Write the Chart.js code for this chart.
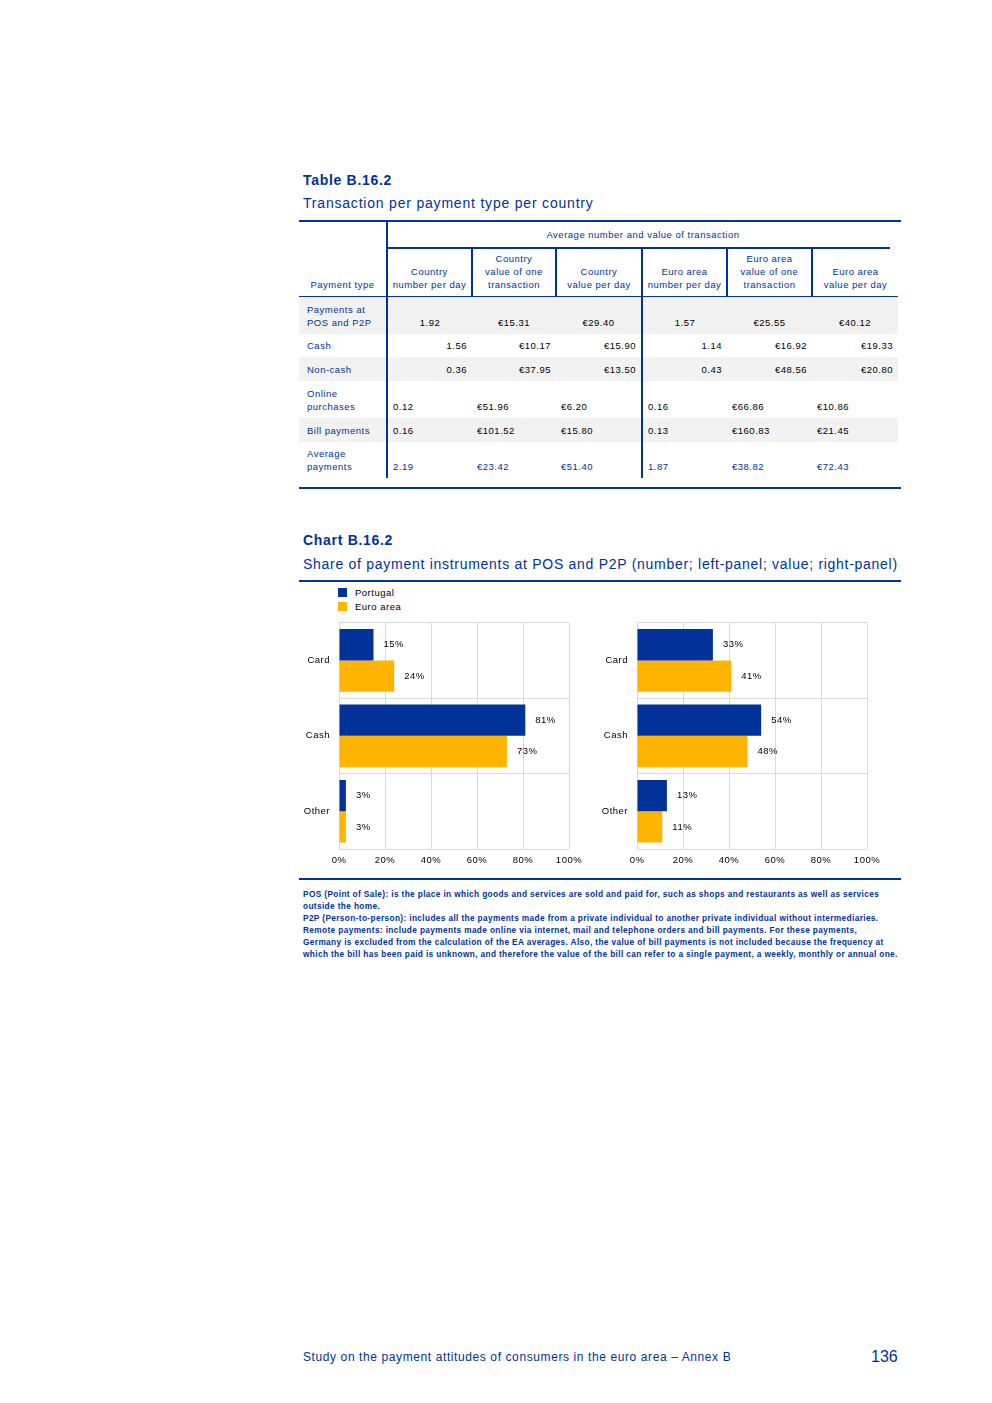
<!DOCTYPE html>
<html>
<head>
<meta charset="utf-8">
<script src="https://cdn.jsdelivr.net/npm/chart.js@4"></script>
<style>
  body { margin: 0; background: #fff; font-family: "Liberation Sans", Arial, sans-serif; }
  #page { position: relative; width: 992px; height: 1403px; }
  .abs { position: absolute; white-space: nowrap; }
  .title { color: #003299; font-weight: bold; font-size: 14px; letter-spacing: 0.7px; }
  .subtitle { color: #003299; font-size: 14px; }
  .rule { position: absolute; background: #003299; height: 2px; }
  table { position: absolute; left: 299px; top: 222px; border-collapse: collapse; table-layout: fixed;
          font-size: 9.5px; line-height: 13px; letter-spacing: 0.5px; }
  td { padding: 0; white-space: nowrap; overflow: hidden; }
  .hdr { color: #003299; text-align: center; vertical-align: bottom; padding-bottom: 5px; }
  .lab { color: #003299; text-align: left; padding-left: 8px; border-right: 2px solid #003299; }
  .sep { border-right: 2px solid #003299; }
  .grey td { background: #f2f2f2; }
  tbody td { vertical-align: bottom; padding-bottom: 5px; }
  .c { text-align: center; }
  .r { text-align: right; padding-right: 5px; }
  .l { text-align: left; padding-left: 5px; }
  .blue { color: #003299; }
  .legend { position: absolute; left: 338px; font-size: 9.5px; color: #000; letter-spacing: 0.5px; }
  .legend span.sw { position: absolute; left: 0; width: 9px; height: 9px; }
  .legend span.tx { position: absolute; left: 17px; top: -1px; white-space: nowrap; }
  .note { position: absolute; left: 303px; color: #003299; font-size: 8.3px; font-weight: bold; line-height: 12px;
          white-space: nowrap; letter-spacing: 0.36px; }
  canvas { position: absolute; }
</style>
</head>
<body>
<div id="page">
  <div class="abs title" style="left:303px; top:172px;">Table B.16.2</div>
  <div class="abs subtitle" style="left:303px; top:195px; letter-spacing:0.8px;">Transaction per payment type per country</div>
  <div class="rule" style="left:299px; top:220px; width:602px;"></div>
  <table id="tbl"></table>
  <div class="rule" style="left:299px; top:487px; width:602px; height:1.5px;"></div>

  <div class="abs title" style="left:303px; top:532px;">Chart B.16.2</div>
  <div class="abs subtitle" style="left:303px; top:556px; letter-spacing:0.72px;">Share of payment instruments at POS and P2P (number; left-panel; value; right-panel)</div>
  <div class="rule" style="left:299px; top:580px; width:602px; height:1.5px;"></div>
  <div id="legend"></div>
  <canvas id="left" width="290" height="269" style="left:299px; top:608px;"></canvas>
  <canvas id="right" width="290" height="269" style="left:597px; top:608px;"></canvas>
  <div class="rule" style="left:299px; top:878px; width:602px; height:1.5px;"></div>
  <div id="notes"></div>

  <div class="abs" style="left:303px; top:1350px; font-size:12px; color:#003299; letter-spacing:0.6px;">Study on the payment attitudes of consumers in the euro area – Annex B</div>
  <div class="abs" style="left:871px; top:1348px; font-size:16px; color:#003299;">136</div>
</div>
<script>
// Table data
const tableGroupTitle = 'Average number and value of transaction';
const tableHeaders = ['Country<br>number per day', 'Country<br>value of one<br>transaction', 'Country<br>value per day',
                      'Euro area<br>number per day', 'Euro area<br>value of one<br>transaction', 'Euro area<br>value per day'];
const rowLabels = ['Payments at<br>POS and P2P', 'Cash', 'Non-cash', 'Online<br>purchases', 'Bill payments', 'Average<br>payments'];
const countryNumber = ['1.92', '1.56', '0.36', '0.12', '0.16', '2.19'];
const countryValueOne = ['€15.31', '€10.17', '€37.95', '€51.96', '€101.52', '€23.42'];
const countryValueDay = ['€29.40', '€15.90', '€13.50', '€6.20', '€15.80', '€51.40'];
const euroNumber = ['1.57', '1.14', '0.43', '0.16', '0.13', '1.87'];
const euroValueOne = ['€25.55', '€16.92', '€48.56', '€66.86', '€160.83', '€38.82'];
const euroValueDay = ['€40.12', '€19.33', '€20.80', '€10.86', '€21.45', '€72.43'];

// Chart data
const categories = ['Card', 'Cash', 'Other'];
const seriesNames = ['Portugal', 'Euro area'];
const seriesColors = ['#003299', '#FFB400'];
const numberPortugal = [15, 81, 3];
const numberEuroArea = [24, 73, 3];
const valuePortugal = [33, 54, 13];
const valueEuroArea = [41, 48, 11];
const xTicks = ['0%', '20%', '40%', '60%', '80%', '100%'];

const notes = [
  'POS (Point of Sale): is the place in which goods and services are sold and paid for, such as shops and restaurants as well as services',
  'outside the home.',
  'P2P (Person-to-person): includes all the payments made from a private individual to another private individual without intermediaries.',
  'Remote payments: include payments made online via internet, mail and telephone orders and bill payments. For these payments,',
  'Germany is excluded from the calculation of the EA averages. Also, the value of bill payments is not included because the frequency at',
  'which the bill has been paid is unknown, and therefore the value of the bill can refer to a single payment, a weekly, monthly or annual one.'
];

// Build table
const colWidths = [88, 85, 84, 86, 85, 85, 86];
const rowHeights = [38, 23, 24, 37, 24, 36];
const rowAlign = ['c', 'r', 'r', 'l', 'l', 'l'];
const greyRows = [0, 2, 4];
let html = '<colgroup>' + colWidths.map(w => `<col style="width:${w}px">`).join('') + '</colgroup>';
html += `<tr style="height:25px"><td class="hdr lab" rowspan="2" style="border-bottom:1px solid #003299;text-align:center;padding-left:0">Payment type</td>
  <td colspan="6" class="hdr" style="vertical-align:middle;padding:0">${tableGroupTitle}</td></tr>`;
html += '<tr style="height:49px">' + tableHeaders.map((h, i) => {
  const last = i === tableHeaders.length - 1;
  const bg = 'background:linear-gradient(#003299,#003299) top left / ' + (last ? '77px' : '100%') + ' 2px no-repeat;';
  return `<td class="hdr" style="${bg}border-bottom:1px solid #003299;${last ? '' : 'border-right:2px solid #003299;'}">${h}</td>`;
}).join('') + '</tr>';
html += '<tbody>';
rowLabels.forEach((lab, i) => {
  const a = rowAlign[i];
  const cls = a + (i === rowLabels.length - 1 ? ' blue' : '');
  html += `<tr class="${greyRows.includes(i) ? 'grey' : ''}" style="height:${rowHeights[i]}px">
    <td class="lab">${lab}</td>
    <td class="${cls}">${countryNumber[i]}</td>
    <td class="${cls}">${countryValueOne[i]}</td>
    <td class="${cls} sep">${countryValueDay[i]}</td>
    <td class="${cls}">${euroNumber[i]}</td>
    <td class="${cls}">${euroValueOne[i]}</td>
    <td class="${cls}">${euroValueDay[i]}</td></tr>`;
});
html += '</tbody>';
document.getElementById('tbl').innerHTML = html;

// Legend
document.getElementById('legend').innerHTML = seriesNames.map((n, i) =>
  `<div class="legend" style="top:${588 + i * 14}px"><span class="sw" style="background:${seriesColors[i]}"></span><span class="tx">${n}</span></div>`
).join('');

// Notes
document.getElementById('notes').innerHTML = notes.map((t, i) =>
  `<div class="note" style="top:${888 + i * 12}px">${t}</div>`).join('');

// Slightly spaced lettering, like the original
const spacing = {
  id: 'spacing',
  beforeDraw(chart) { chart.ctx.letterSpacing = '0.5px'; }
};

// Value labels at the end of each bar
const barLabels = {
  id: 'barLabels',
  afterDatasetsDraw(chart) {
    const ctx = chart.ctx;
    ctx.save();
    ctx.font = '9.5px "Liberation Sans", Arial, sans-serif';
    ctx.fillStyle = '#000';
    ctx.textAlign = 'left';
    ctx.textBaseline = 'middle';
    chart.data.datasets.forEach((ds, di) => {
      chart.getDatasetMeta(di).data.forEach((bar, i) => {
        ctx.fillText(ds.data[i] + '%', bar.x + 10, bar.y);
      });
    });
    ctx.restore();
  }
};

const tickFont = { family: '"Liberation Sans", Arial, sans-serif', size: 9.5 };

function makeChart(id, first, second) {
  return new Chart(document.getElementById(id), {
    type: 'bar',
    data: {
      labels: categories,
      datasets: [
        { label: seriesNames[0], data: first, backgroundColor: seriesColors[0] },
        { label: seriesNames[1], data: second, backgroundColor: seriesColors[1] }
      ]
    },
    options: {
      indexAxis: 'y',
      responsive: false,
      animation: false,
      layout: { padding: { top: 0, right: 20, bottom: 0, left: 0 } },
      datasets: { bar: { categoryPercentage: 0.83, barPercentage: 1 } },
      plugins: { legend: { display: false }, tooltip: { enabled: false } },
      scales: {
        x: {
          min: 0, max: 100,
          ticks: { stepSize: 20, color: '#000', font: tickFont, padding: 6,
                   callback: (v, i) => xTicks[i] },
          grid: { color: '#d9d9d9', drawTicks: false },
          border: { display: false },
          afterFit: s => { s.height = 28; }
        },
        y: {
          ticks: { color: '#000', font: tickFont, padding: 9 },
          grid: { offset: true, color: '#d9d9d9', drawTicks: false },
          border: { display: false },
          afterFit: s => { s.width = 40; }
        }
      }
    },
    plugins: [spacing, barLabels]
  });
}

makeChart('left', numberPortugal, numberEuroArea);
makeChart('right', valuePortugal, valueEuroArea);
</script>
</body>
</html>
